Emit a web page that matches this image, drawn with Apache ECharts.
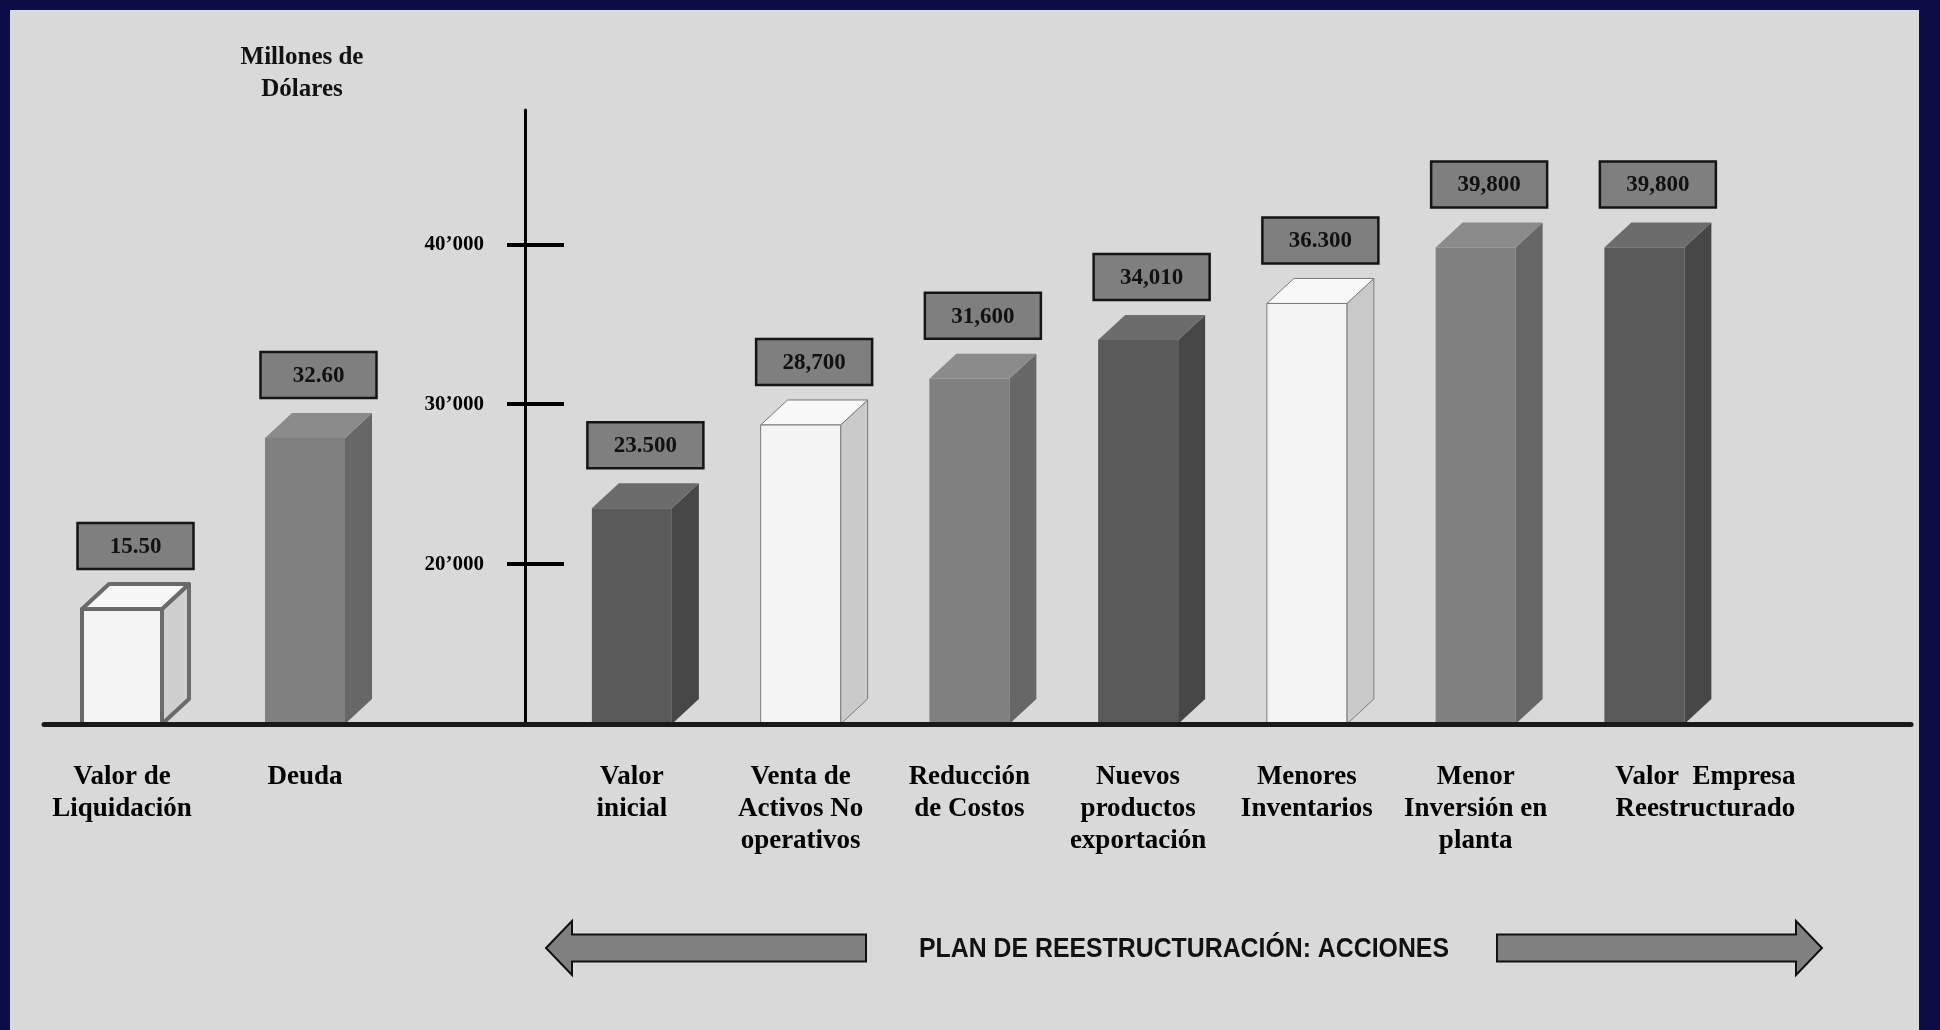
<!DOCTYPE html>
<html>
<head>
<meta charset="utf-8">
<title>Plan de reestructuración</title>
<script src="https://cdn.jsdelivr.net/npm/echarts@6/dist/echarts.min.js"></script>
<style>
  html, body { margin: 0; padding: 0; background: #0d0d45; overflow: hidden; }
  #chart { position: absolute; left: 10px; top: 10px; width: 1909px; height: 1020px; }
</style>
</head>
<body>
<div id="chart"></div>
<script>
// datos
var categoriesLeft = ['Valor de\nLiquidación', 'Deuda', ''];
var valuesLeft = [15.5, 32.6];
var labelsLeft = ['15.50', '32.60'];
var tonesLeft = ['outline', 'mid'];

var categoriesRight = ['Valor\ninicial', 'Venta de\nActivos No\noperativos', 'Reducción\nde Costos',
  'Nuevos\nproductos\nexportación', 'Menores\nInventarios', 'Menor\nInversión en\nplanta',
  'Valor  Empresa\nReestructurado', ''];
var valuesRight = [23500, 28700, 31600, 34010, 36300, 39800, 39800];
var labelsRight = ['23.500', '28,700', '31,600', '34,010', '36.300', '39,800', '39,800'];
var tonesRight = ['dark', 'white', 'mid', 'dark', 'white', 'mid', 'dark'];

var tickValues = [20000, 30000, 40000];
var tickLabels = ['20’000', '30’000', '40’000'];

// estilos de barras
var palette = {
  outline: { front: '#f4f4f4', top: '#f7f7f7', side: '#cfcfcf', stroke: '#6a6a6a', lw: 4 },
  white: { front: '#f4f4f4', top: '#f8f8f8', side: '#cacaca', stroke: '#7a7a7a', lw: 1 },
  mid: { front: '#808080', top: '#8b8b8b', side: '#676767', stroke: null, lw: 0 },
  dark: { front: '#5a5a5a', top: '#6c6c6c', side: '#474747', stroke: null, lw: 0 }
};
var FRONT = 80, DX = 27, DY = 25;
var SERIF = '"Liberation Serif", "Times New Roman", serif';

function bar3d(labels, tones, base) {
  return function (params, api) {
    var i = params.dataIndex;
    var p = api.coord([api.value(0), api.value(1)]);
    var b = api.coord([api.value(0), base]);
    var c = p[0], yT = p[1], yB = b[1];
    var x0 = c - (FRONT + DX) / 2, x1 = x0 + FRONT;
    var pal = palette[tones[i]];
    var st = function (fill) {
      return pal.stroke ? { fill: fill, stroke: pal.stroke, lineWidth: pal.lw, lineJoin: 'round' } : { fill: fill };
    };
    var boxW = 116, boxH = 46;
    var boxBottom = yT - DY - 15;
    return {
      type: 'group',
      children: [
        { type: 'polygon', shape: { points: [[x1, yT], [x1 + DX, yT - DY], [x1 + DX, yB - DY], [x1, yB]] }, style: st(pal.side) },
        { type: 'polygon', shape: { points: [[x0, yT], [x0 + DX, yT - DY], [x1 + DX, yT - DY], [x1, yT]] }, style: st(pal.top) },
        { type: 'rect', shape: { x: x0, y: yT, width: FRONT, height: yB - yT }, style: st(pal.front) },
        { type: 'rect', shape: { x: c - boxW / 2, y: boxBottom - boxH, width: boxW, height: boxH },
          style: { fill: '#7f7f7f', stroke: '#151515', lineWidth: 2.5 } },
        { type: 'text', style: { text: labels[i], x: c, y: boxBottom - boxH / 2 + 1, align: 'center', verticalAlign: 'middle',
          font: 'bold 23px ' + SERIF, fill: '#111' } }
      ]
    };
  };
}

var labelFont = { fontFamily: SERIF, fontWeight: 'bold', fontSize: 27, lineHeight: 32, color: '#000' };
var xLabel = {
  interval: 0, color: '#000', fontFamily: SERIF, fontWeight: 'bold', fontSize: 27,
  lineHeight: 32, margin: 37, verticalAlign: 'top', padding: [0, 27, 0, 0],
  // la última etiqueta está desplazada a la derecha en el original
  formatter: function (v, idx) {
    if (idx === 6) {
      return v.split('\n').map(function (s) { return '{far|' + s + '}'; }).join('\n');
    }
    return v;
  },
  rich: { far: Object.assign({ padding: [0, 0, 0, 122] }, labelFont) }
};
var baseLine = { lineStyle: { color: '#1a1a1a', width: 5 } };

var chart = echarts.init(document.getElementById('chart'));
chart.setOption({
  backgroundColor: '#d9d9d9',
  animation: false,
  grid: [
    { left: 34, right: 1326, top: 100, bottom: 306 },
    { left: 551, right: 8, top: 100, bottom: 306 }
  ],
  xAxis: [
    { type: 'category', gridIndex: 0, data: categoriesLeft, z: 5, axisLine: baseLine, axisTick: { show: false },
      axisLabel: Object.assign({}, xLabel, { formatter: null }) },
    { type: 'category', gridIndex: 1, data: categoriesRight, z: 5, axisLine: baseLine, axisTick: { show: false }, axisLabel: xLabel }
  ],
  yAxis: [
    { type: 'value', gridIndex: 0, min: 4, max: 65.4, show: false },
    { type: 'value', gridIndex: 1, min: 10000, max: 48400, position: 'left', offset: 36, z: 5,
      splitLine: { show: false },
      axisLine: { show: true, lineStyle: { color: '#000', width: 3 } },
      axisTick: { show: true, inside: true, length: 39, customValues: tickValues, lineStyle: { color: '#000', width: 4 } },
      axisLabel: { customValues: tickValues, margin: 41, color: '#000', fontFamily: SERIF, fontWeight: 'bold', fontSize: 21,
        formatter: function (v) { return tickLabels[tickValues.indexOf(v)] || ''; } } },
    { type: 'value', gridIndex: 1, min: 10000, max: 48400, position: 'left', offset: 36, z: 5,
      splitLine: { show: false }, axisLine: { show: false }, axisLabel: { show: false },
      axisTick: { show: true, inside: false, length: 18, customValues: tickValues, lineStyle: { color: '#000', width: 4 } } }
  ],
  series: [
    { type: 'custom', xAxisIndex: 0, yAxisIndex: 0, z: 1, encode: { x: 0, y: 1 },
      data: valuesLeft.map(function (v, i) { return [i, v]; }),
      renderItem: bar3d(labelsLeft, tonesLeft, 4) },
    { type: 'custom', xAxisIndex: 1, yAxisIndex: 1, z: 1, encode: { x: 0, y: 1 },
      data: valuesRight.map(function (v, i) { return [i, v]; }),
      renderItem: bar3d(labelsRight, tonesRight, 10000) }
  ],
  graphic: [
    { type: 'text', style: { text: 'Millones de\nDólares', x: 292, y: 64, align: 'center', verticalAlign: 'middle',
      font: 'bold 25px ' + SERIF, lineHeight: 32, fill: '#111' } },
    { type: 'polygon', shape: { points: [[536, 938], [562, 911], [562, 924.5], [856, 924.5], [856, 951.5], [562, 951.5], [562, 965]] },
      style: { fill: '#808080', stroke: '#111', lineWidth: 2 } },
    { type: 'polygon', shape: { points: [[1487, 924.5], [1786, 924.5], [1786, 911], [1812, 938], [1786, 965], [1786, 951.5], [1487, 951.5]] },
      style: { fill: '#808080', stroke: '#111', lineWidth: 2 } },
    { type: 'text', x: 1174, y: 940, scaleX: 0.92,
      style: { text: 'PLAN DE REESTRUCTURACIÓN: ACCIONES', x: 0, y: 0, align: 'center', verticalAlign: 'middle',
        font: 'bold 27px "Liberation Sans", Arial, sans-serif', fill: '#111' } }
  ]
});
window.addEventListener('resize', function () { chart.resize(); });
</script>
</body>
</html>
